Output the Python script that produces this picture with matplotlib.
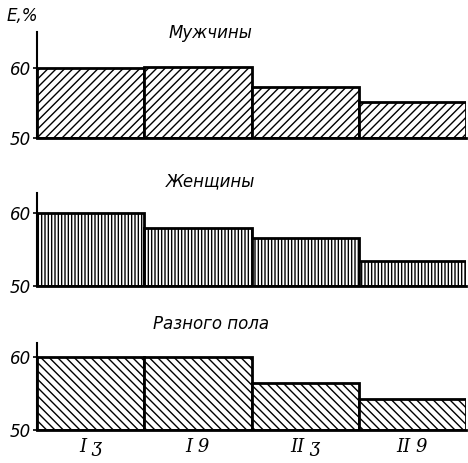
import matplotlib.pyplot as plt

groups = ["I ʒ", "I 9", "II ʒ", "II 9"]
titles = ["Мужчины", "Женщины", "Разного пола"]
men = [60.0, 60.1, 57.3, 55.1]
women = [60.0, 57.9, 56.6, 53.4]
mixed = [60.0, 60.0, 56.4, 54.2]

series = [men, women, mixed]
hatches = ["////", "|||||", "\\\\\\\\"]
tops = [65.1, 62.7, 61.9]
# axes boxes in figure fraction: [left, bottom, width, height]
boxes = [[0.079, 0.702, 0.917, 0.229],
         [0.079, 0.382, 0.917, 0.201],
         [0.079, 0.071, 0.917, 0.188]]
title_y = [0.918, 0.598, 0.29]

plt.rcParams['hatch.linewidth'] = 1.0
fig = plt.figure(figsize=(4.68, 4.63), dpi=100)

for i in range(3):
    ax = fig.add_axes(boxes[i])
    ax.bar(range(4), [v - 50 for v in series[i]], bottom=50, width=1, align="edge",
           color="white", edgecolor="black", linewidth=2, hatch=hatches[i])
    ax.set_xlim(0, 4)
    ax.set_ylim(50, tops[i])
    ax.set_yticks([50, 60])
    ax.set_yticklabels(["50", "60"], fontsize=12, style="italic")
    ax.tick_params(axis="y", length=3, width=1.2, pad=1)
    ax.spines["top"].set_visible(False)
    ax.spines["right"].set_visible(False)
    ax.spines["left"].set_linewidth(1.5)
    ax.spines["bottom"].set_linewidth(2)
    if i == 2:
        ax.set_xticks([0.5, 1.5, 2.5, 3.5])
        ax.set_xticklabels(groups, fontsize=13, style="italic", family="DejaVu Serif")
        ax.tick_params(axis="x", length=0, pad=6)
    else:
        ax.set_xticks([])
    fig.text(0.45, title_y[i], titles[i], fontsize=12, style="italic", ha="center")

fig.text(0.015, 0.955, "E,%", fontsize=12, style="italic")

plt.savefig("out.png")
